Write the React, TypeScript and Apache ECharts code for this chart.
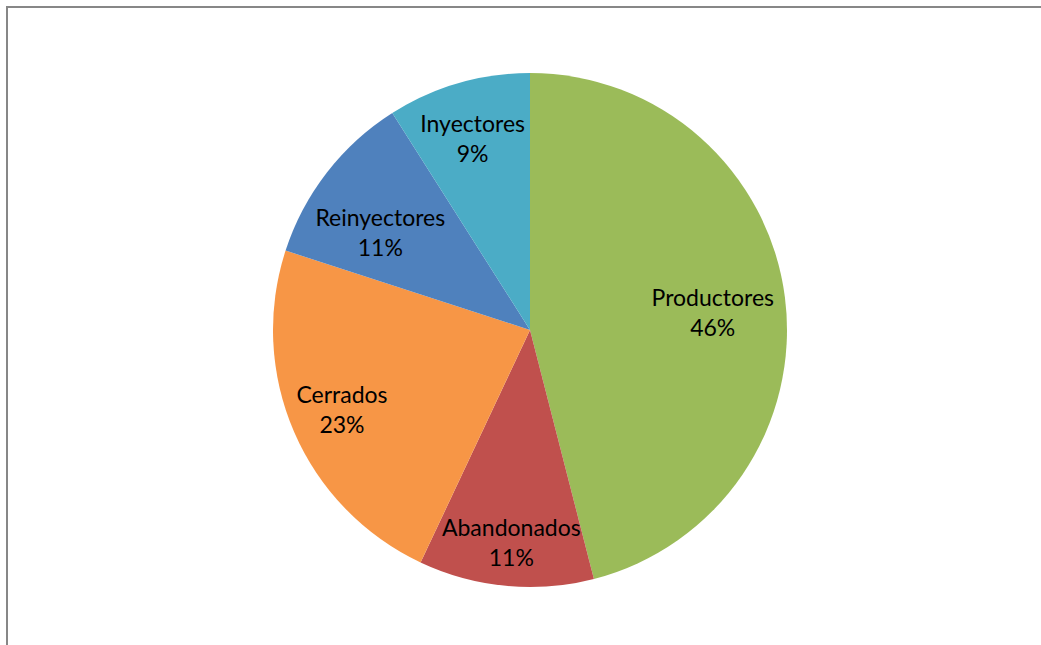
import React, { useEffect, useRef } from "react";
import * as echarts from "echarts";

const categories = ["Productores", "Abandonados", "Cerrados", "Reinyectores", "Inyectores"];
const values = [46, 11, 23, 11, 9];

const colors = ["#9BBB59", "#C0504D", "#F79646", "#4F81BD", "#4BACC6"];
const labelNudges: [number, number][] = [
  [-14, 7],
  [0, 15],
  [-6, 0],
  [7, 24],
  [-2, -2],
];

const CX = 530;
const CY = 330;
const R = 257;
const LABEL_K = 0.76;

export default function App() {
  const ref = useRef<HTMLDivElement>(null);
  useEffect(() => {
    if (!ref.current) return;
    const chart = echarts.init(ref.current, undefined, { renderer: "svg" });
    const data = categories.map((name, i) => ({
      name,
      value: values[i],
      itemStyle: { color: colors[i] },
    }));
    chart.setOption({
      animation: false,
      backgroundColor: "#ffffff",
      graphic: [
        {
          type: "rect",
          shape: { x: 7, y: 7, width: 1100, height: 700 },
          style: { fill: "none", stroke: "#878787", lineWidth: 2 },
          silent: true,
        },
      ],
      series: [
        {
          type: "pie",
          center: [CX, CY],
          radius: [0, R],
          startAngle: 90,
          clockwise: true,
          silent: true,
          label: { show: false },
          labelLine: { show: false },
          itemStyle: { borderWidth: 0 },
          data,
        },
        {
          type: "pie",
          center: [CX, CY],
          radius: [0, 2 * LABEL_K * R],
          startAngle: 90,
          clockwise: true,
          silent: true,
          itemStyle: { color: "rgba(0,0,0,0)", borderWidth: 0 },
          label: {
            show: true,
            position: "inside",
            formatter: "{b}\n{d}%",
            color: "#000000",
            fontFamily: "Lato",
            fontSize: 23,
            lineHeight: 30,
            align: "center",
          },
          labelLine: { show: false },
          data: categories.map((name, i) => ({
            name,
            value: values[i],
            label: { offset: labelNudges[i] },
          })),
        },
      ],
    });
    return () => chart.dispose();
  }, []);
  return (
    <div
      ref={ref}
      style={{ position: "fixed", left: 0, top: 0, width: 1041, height: 645 }}
    />
  );
}
